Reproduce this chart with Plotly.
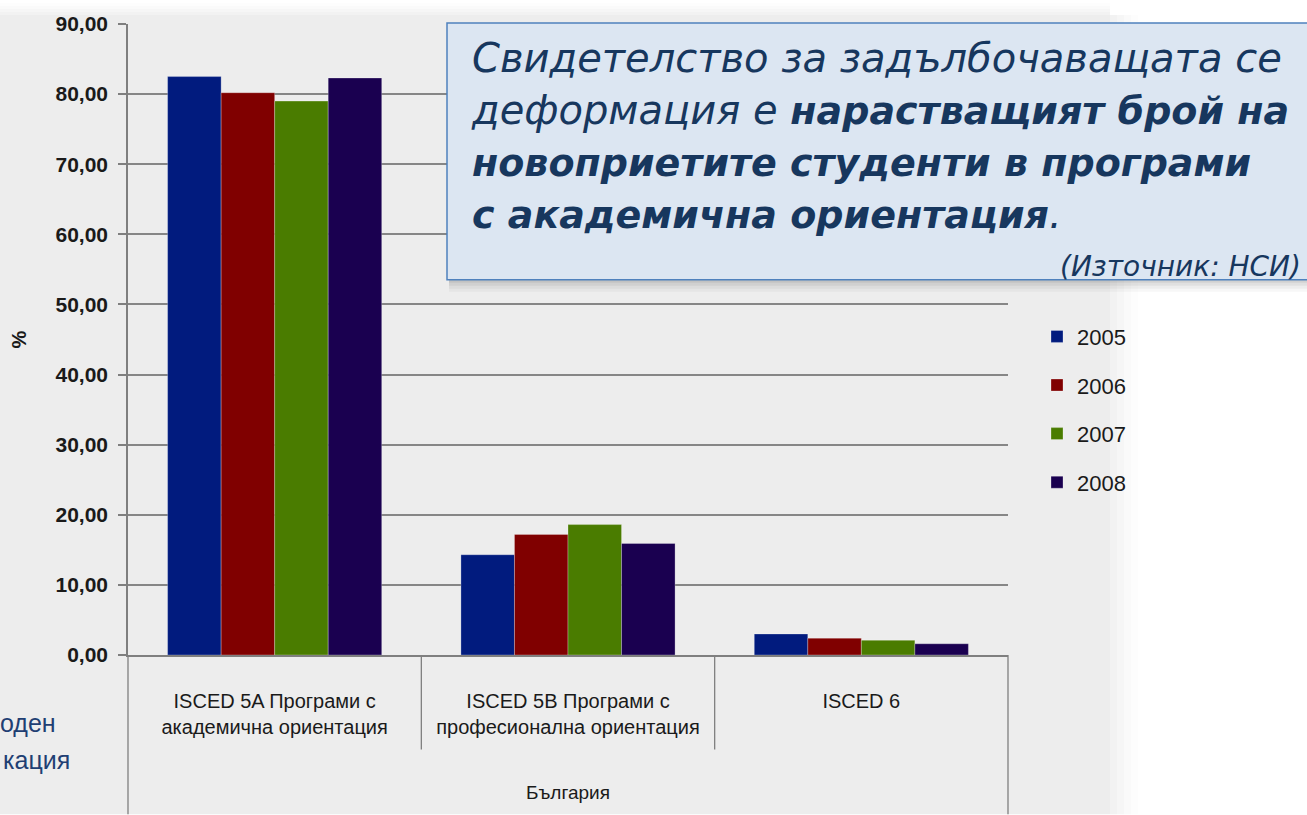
import plotly.graph_objects as go

# ---------------- data ----------------
categories = [
    "ISCED 5A Програми с<br>академична ориентация",
    "ISCED 5B Програми с<br>професионална ориентация",
    "ISCED 6",
]
years = ["2005", "2006", "2007", "2008"]
values_2005 = [82.5, 14.3, 3.0]
values_2006 = [80.2, 17.2, 2.4]
values_2007 = [79.0, 18.6, 2.1]
values_2008 = [82.3, 15.9, 1.6]
series = [values_2005, values_2006, values_2007, values_2008]
colors = ["#011B7E", "#800000", "#4A7C00", "#1A0050"]
outer_label = "България"
y_ticks = [0, 10, 20, 30, 40, 50, 60, 70, 80, 90]

W, H = 1307, 815
L, R, T, B = 128, 1008, 21, 655  # plot area in pixels


def px(x):
    return (x - L) / (R - L)


def py(y):
    return (B - y) / (B - T)


fig = go.Figure()
for yr, vals, col in zip(years, series, colors):
    fig.add_trace(go.Bar(
        name=yr, x=categories, y=vals, marker_color=col,
        marker_line=dict(width=0.6, color="rgba(255,255,255,0.45)"),
        legendgroup=yr,
    ))

shapes = []
# gray slide background with soft edges
shapes.append(dict(type="rect", xref="paper", yref="paper", layer="below",
                   x0=px(0), x1=px(1110), y0=py(815), y1=py(12),
                   fillcolor="#ededed", line_width=0))
for i, a in enumerate([0.75, 0.5, 0.3, 0.12]):
    shapes.append(dict(type="rect", xref="paper", yref="paper", layer="below",
                       x0=px(1110 + i * 7), x1=px(1117 + i * 7), y0=py(815), y1=py(12),
                       fillcolor=f"rgba(237,237,237,{a})", line_width=0))
    shapes.append(dict(type="rect", xref="paper", yref="paper", layer="below",
                       x0=px(0), x1=px(1110), y0=py(12 - i * 3), y1=py(9 - i * 3),
                       fillcolor=f"rgba(237,237,237,{a})", line_width=0))

# category dividers under the axis
n = len(categories)
for i in range(n + 1):
    bottom = 815 if i in (0, n) else 750
    shapes.append(dict(type="line", xref="x domain", yref="paper",
                       x0=i / n, x1=i / n, y0=py(655), y1=py(bottom),
                       line=dict(color="#7f7f7f", width=1.3)))

# callout box shadow + box
for i, a in enumerate([0.18, 0.12, 0.07, 0.03]):
    shapes.append(dict(type="rect", xref="paper", yref="paper", layer="above",
                       x0=px(449), x1=px(1330), y0=py(278 + 3 * (i + 1)), y1=py(278 + 3 * i),
                       fillcolor=f"rgba(0,0,0,{a})", line_width=0))
shapes.append(dict(type="rect", xref="paper", yref="paper", layer="above",
                   x0=px(447), x1=px(1330), y0=py(278), y1=py(20),
                   fillcolor="#DCE6F2", line=dict(color="#4F81BD", width=1.5)))

B38 = '<span style="font-size:38px"><b>'
annotations = [
    dict(xref="paper", yref="paper", x=px(469), y=py(30), xanchor="left", yanchor="top",
         align="left", showarrow=False,
         font=dict(family="DejaVu Sans", size=40, color="#17375E"),
         text="<i>Свидетелство за задълбочаващата се<br>"
              "деформация е " + B38 + "нарастващият брой на</b></span><br>"
              + B38 + "новоприетите студенти в програми</b></span><br>"
              + B38 + "с академична ориентация</b></span>.</i>"),
    dict(xref="paper", yref="paper", x=px(1303), y=py(265), xanchor="right", yanchor="middle",
         showarrow=False, font=dict(family="DejaVu Sans", size=28, color="#17375E"),
         text="<i>(Източник: НСИ)</i>"),
    dict(xref="paper", yref="paper", x=px(18), y=py(338), xanchor="center", yanchor="middle",
         showarrow=False, textangle=-90,
         font=dict(family="Liberation Sans", size=20, color="#1a1a1a"), text="<b>%</b>"),
    dict(xref="paper", yref="paper", x=0.5, y=py(793), xanchor="center", yanchor="middle",
         showarrow=False, font=dict(family="Liberation Sans", size=19, color="#1a1a1a"),
         text=outer_label),
    dict(xref="paper", yref="paper", x=px(58), y=py(723), xanchor="right", yanchor="middle",
         showarrow=False, font=dict(family="Liberation Sans", size=25, color="#1F3F73"),
         text="оден"),
    dict(xref="paper", yref="paper", x=px(72), y=py(760), xanchor="right", yanchor="middle",
         showarrow=False, font=dict(family="Liberation Sans", size=25, color="#1F3F73"),
         text="кация"),
]

fig.update_layout(
    width=W, height=H,
    margin=dict(l=L, r=W - R, t=T, b=H - B, pad=0),
    paper_bgcolor="white", plot_bgcolor="rgba(0,0,0,0)",
    barmode="group", bargap=0.27, bargroupgap=0,
    separators=",.",
    shapes=shapes, annotations=annotations,
    showlegend=True,
    legend=dict(x=px(1037), y=py(314), xanchor="left", yanchor="top",
                xref="paper", yref="paper",
                bgcolor="rgba(0,0,0,0)", traceorder="grouped", tracegroupgap=17,
                font=dict(family="Liberation Sans", size=22, color="#1a1a1a")),
    xaxis=dict(showline=True, linecolor="#7f7f7f", linewidth=1.5, ticks="",
               showgrid=False, ticklabelstandoff=27,
               tickfont=dict(family="Liberation Sans", size=20, color="#1a1a1a")),
    yaxis=dict(range=[0, 90], tickvals=y_ticks, tickformat=".2f",
               showline=True, linecolor="#7f7f7f", linewidth=1.5,
               ticks="outside", ticklen=8, tickcolor="#7f7f7f", tickwidth=1.5,
               showgrid=True, gridcolor="#868686", gridwidth=1.5, zeroline=False,
               ticklabelstandoff=6,
               tickfont=dict(family="Liberation Sans", size=21, color="#1a1a1a",
                             weight="bold")),
)

fig.write_html("out.html", config={"displayModeBar": False},
               post_script="document.body.style.margin='0px';")
